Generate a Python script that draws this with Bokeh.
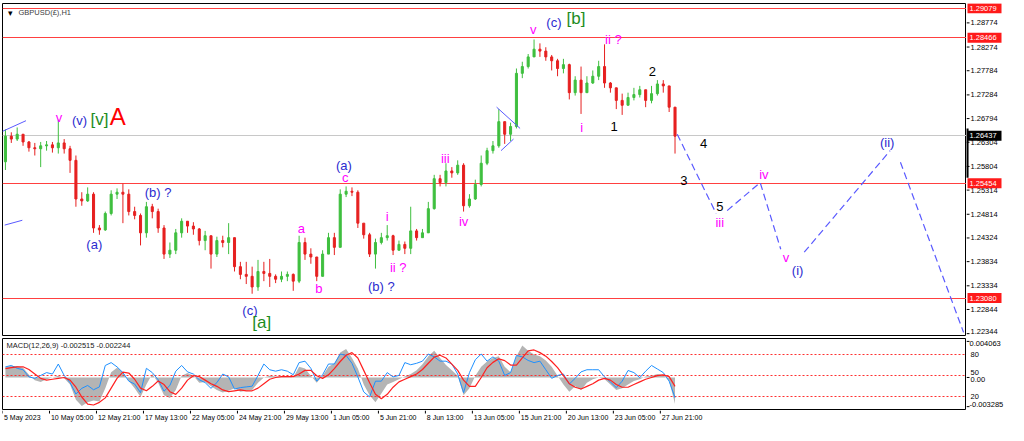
import numpy as np
from bokeh.plotting import figure
from bokeh.models import Range1d, Label, ColumnDataSource
from bokeh.layouts import column, row
from bokeh.embed import file_html
from bokeh.resources import INLINE
from bokeh.core.properties import value

# ---------------- data (H1 bars aggregated by 8) ----------------
BARS_PER_CANDLE = 8
first_open = 1.2590
close = [1.2643, 1.2637, 1.2647, 1.2631, 1.2619, 1.2617, 1.2623, 1.2625, 1.2619, 1.2629,
         1.2617, 1.2593, 1.2513, 1.2509, 1.2523, 1.2453, 1.2449, 1.2483, 1.2523, 1.2527,
         1.2523, 1.2487, 1.2479, 1.2443, 1.2497, 1.2487, 1.2453, 1.2399, 1.2407, 1.2443,
         1.2467, 1.2457, 1.2451, 1.2427, 1.2437, 1.2399, 1.2427, 1.2423, 1.2433, 1.2373,
         1.2357, 1.2353, 1.2331, 1.2363, 1.2359, 1.2353, 1.2347, 1.2353, 1.2357, 1.2343,
         1.2423, 1.2399, 1.2393, 1.2353, 1.2399, 1.2433, 1.2413, 1.2523, 1.2529, 1.2527,
         1.2463, 1.2439, 1.2399, 1.2423, 1.2433, 1.2437, 1.2407, 1.2419, 1.2411, 1.2447,
         1.2433, 1.2443, 1.2493, 1.2555, 1.2547, 1.2571, 1.2567, 1.2583, 1.2499, 1.2513,
         1.2543, 1.2587, 1.2613, 1.2623, 1.2673, 1.2647, 1.2663, 1.2773, 1.2787, 1.2807,
         1.2823, 1.2819, 1.2807, 1.2799, 1.2783, 1.2791, 1.2733, 1.2759, 1.2733, 1.2753,
         1.2767, 1.2787, 1.2753, 1.2743, 1.2717, 1.2707, 1.2723, 1.2729, 1.2739, 1.2717,
         1.2731, 1.2751, 1.2747, 1.2703, 1.2643]
high = [1.2657, 1.2651, 1.2661, 1.2643, 1.2633, 1.2629, 1.2631, 1.2633, 1.2631, 1.2677,
        1.2637, 1.2623, 1.2603, 1.2527, 1.2537, 1.2527, 1.2459, 1.2487, 1.2531, 1.2535,
        1.2545, 1.2533, 1.2497, 1.2483, 1.2507, 1.2503, 1.2493, 1.2459, 1.2423, 1.2451,
        1.2473, 1.2467, 1.2465, 1.2453, 1.2447, 1.2433, 1.2435, 1.2437, 1.2463, 1.2433,
        1.2383, 1.2383, 1.2373, 1.2387, 1.2383, 1.2389, 1.2357, 1.2363, 1.2363, 1.2359,
        1.2437, 1.2433, 1.2411, 1.2393, 1.2407, 1.2443, 1.2443, 1.2533, 1.2539, 1.2537,
        1.2531, 1.2457, 1.2443, 1.2431, 1.2443, 1.2459, 1.2439, 1.2427, 1.2425, 1.2497,
        1.2451, 1.2451, 1.2507, 1.2563, 1.2563, 1.2587, 1.2579, 1.2593, 1.2587, 1.2523,
        1.2553, 1.2603, 1.2619, 1.2633, 1.2699, 1.2673, 1.2671, 1.2783, 1.2797, 1.2813,
        1.2843, 1.2835, 1.2827, 1.2811, 1.2803, 1.2803, 1.2793, 1.2767, 1.2787, 1.2767,
        1.2779, 1.2799, 1.2833, 1.2755, 1.2743, 1.2731, 1.2733, 1.2743, 1.2747, 1.2735,
        1.2747, 1.2759, 1.2759, 1.2739, 1.2703]
low = [1.2573, 1.2629, 1.2633, 1.2623, 1.2611, 1.2603, 1.2579, 1.2613, 1.2609, 1.2607,
       1.2607, 1.2567, 1.2497, 1.2499, 1.2507, 1.2443, 1.2439, 1.2447, 1.2479, 1.2513,
       1.2463, 1.2479, 1.2471, 1.2417, 1.2433, 1.2473, 1.2443, 1.2389, 1.2391, 1.2399,
       1.2433, 1.2443, 1.2439, 1.2417, 1.2407, 1.2369, 1.2393, 1.2413, 1.2399, 1.2363,
       1.2347, 1.2337, 1.2317, 1.2323, 1.2343, 1.2331, 1.2339, 1.2341, 1.2343, 1.2323,
       1.2339, 1.2387, 1.2379, 1.2343, 1.2353, 1.2399, 1.2397, 1.2413, 1.2517, 1.2519,
       1.2453, 1.2431, 1.2393, 1.2369, 1.2419, 1.2427, 1.2397, 1.2407, 1.2399, 1.2399,
       1.2427, 1.2435, 1.2443, 1.2491, 1.2539, 1.2539, 1.2557, 1.2563, 1.2487, 1.2495,
       1.2511, 1.2539, 1.2583, 1.2607, 1.2619, 1.2627, 1.2633, 1.2659, 1.2763, 1.2783,
       1.2807, 1.2807, 1.2799, 1.2779, 1.2767, 1.2773, 1.2719, 1.2727, 1.2689, 1.2739,
       1.2751, 1.2759, 1.2743, 1.2733, 1.2699, 1.2687, 1.2707, 1.2717, 1.2723, 1.2703,
       1.2711, 1.2727, 1.2733, 1.2693, 1.2607]

macd = [0.0012, 0.0013, 0.0013, 0.0011, 0.0003, -0.0003, -0.0005, -0.0002, 0.0000, 0.0002,
        -0.0001, -0.0008, -0.0025, -0.0032, -0.0028, -0.0026, -0.0027, -0.0012, 0.0006, 0.0011,
        0.0006, -0.0004, -0.0012, -0.0022, -0.0008, 0.0004, -0.0006, -0.0020, -0.0023, -0.0014,
        0.0002, 0.0005, 0.0002, -0.0006, -0.0005, -0.0010, -0.0014, -0.0017, -0.0015, -0.0012,
        -0.0016, -0.0015, -0.0014, -0.0006, 0.0000, 0.0002, 0.0001, 0.0001, 0.0002, 0.0000,
        0.0012, 0.0010, 0.0002, -0.0006, 0.0002, 0.0012, 0.0016, 0.0028, 0.0032, 0.0022,
        0.0010, -0.0008, -0.0020, -0.0028, -0.0018, -0.0008, -0.0005, -0.0002, 0.0001, 0.0004,
        0.0008, 0.0015, 0.0024, 0.0030, 0.0022, 0.0014, 0.0008, 0.0002, -0.0020, -0.0012,
        0.0002, 0.0012, 0.0018, 0.0022, 0.0024, 0.0012, 0.0006, 0.0024, 0.0036, 0.0030,
        0.0026, 0.0024, 0.0019, 0.0012, 0.0002, -0.0008, -0.0016, -0.0010, -0.0014, -0.0006,
        -0.0002, 0.0000, -0.0002, -0.0008, -0.0014, -0.0012, -0.0008, -0.0004, -0.0002, 0.0001,
        0.0002, 0.0004, 0.0003, -0.0004, -0.0030]
signal = [0.0010, 0.0011, 0.0012, 0.0012, 0.0009, 0.0004, -0.0001, -0.0003, -0.0002, -0.0001,
          0.0000, -0.0003, -0.0011, -0.0022, -0.0030, -0.0031, -0.0028, -0.0023, -0.0012, -0.0001,
          0.0006, 0.0005, -0.0002, -0.0012, -0.0015, -0.0010, -0.0004, -0.0008, -0.0016, -0.0019,
          -0.0012, -0.0003, 0.0002, 0.0001, -0.0003, -0.0007, -0.0010, -0.0014, -0.0016, -0.0015,
          -0.0014, -0.0015, -0.0015, -0.0012, -0.0007, -0.0002, 0.0000, 0.0001, 0.0001, 0.0001,
          0.0004, 0.0008, 0.0008, 0.0002, -0.0001, 0.0003, 0.0010, 0.0018, 0.0025, 0.0028,
          0.0022, 0.0008, -0.0006, -0.0019, -0.0024, -0.0019, -0.0011, -0.0005, -0.0002, 0.0001,
          0.0004, 0.0009, 0.0016, 0.0023, 0.0025, 0.0022, 0.0015, 0.0008, -0.0003, -0.0010,
          -0.0010, 0.0000, 0.0011, 0.0017, 0.0021, 0.0019, 0.0014, 0.0014, 0.0022, 0.0030,
          0.0031, 0.0028, 0.0024, 0.0018, 0.0011, 0.0002, -0.0007, -0.0011, -0.0013, -0.0010,
          -0.0007, -0.0003, -0.0001, -0.0003, -0.0008, -0.0011, -0.0011, -0.0008, -0.0005, -0.0002,
          0.0000, 0.0002, 0.0003, 0.0001, -0.0010]
osc = [62, 64, 60, 58, 48, 46, 50, 54, 52, 66, 50, 40, 24, 32, 36, 30, 34, 64, 68, 62,
       54, 42, 38, 26, 60, 54, 44, 28, 36, 56, 64, 55, 52, 44, 40, 32, 40, 52, 48, 31,
       33, 34, 35, 50, 66, 58, 56, 58, 56, 51, 68, 70, 60, 42, 51, 66, 66, 80, 78, 67,
       48, 27, 20, 42, 42, 54, 48, 50, 68, 65, 67, 70, 80, 76, 70, 70, 66, 52, 26, 54,
       72, 80, 70, 76, 70, 50, 54, 78, 76, 71, 68, 70, 58, 46, 50, 52, 38, 46, 55, 58,
       58, 58, 48, 41, 33, 42, 57, 54, 47, 56, 64, 59, 54, 42, 19]
osc_levels = [80, 50, 20]

x_tick_bars = [0, 64, 128, 192, 256, 320, 384, 448, 512, 576, 640, 704, 768, 832, 896]
x_tick_labels = ["5 May 2023", "10 May 05:00", "12 May 21:00", "17 May 13:00", "22 May 05:00",
                 "24 May 21:00", "29 May 13:00", "1 Jun 05:00", "5 Jun 21:00", "8 Jun 13:00",
                 "13 Jun 05:00", "15 Jun 21:00", "20 Jun 13:00", "23 Jun 05:00", "27 Jun 21:00"]
price_ticks = [1.22344, 1.22844, 1.23334, 1.23834, 1.24324, 1.24814, 1.25314, 1.25804,
               1.26304, 1.26794, 1.27284, 1.27784, 1.28274, 1.28774]
red_levels = [1.29079, 1.28466, 1.25454, 1.23080]
bid = 1.26437
current_bar_range = [1.2557, 1.2659]
macd_ticks = [0.004063, 0.0, -0.003285]
macd_tick_labels = ["0.004063", "0.00", "-0.003285"]

# projected wave path (bar, price)
proj_x = [[919, 972], [987, 1032, 1060], [1092, 1209], [1223, 1309]]
proj_y = [[1.2647, 1.2483], [1.2489, 1.2547, 1.2409], [1.2403, 1.2613], [1.2589, 1.2237]]
# drawn trend lines
draw_x = [[0, 32], [3, 27], [673, 705], [679, 696]]
draw_y = [[1.2653, 1.2675], [1.2459, 1.2469], [1.2703, 1.2659], [1.2613, 1.2637]]

MAG, BLU, GRN, BLK, RED = "#ff00ff", "#2b2bd0", "#1e8c1e", "#000000", "#ff0000"
wave_labels = [
    ("v", 77, 1.2681, MAG, "13px"), ("(v)", 105, 1.2675, BLU, "13px"), ("[v]", 132, 1.2677, GRN, "17px"),
    ("A", 157, 1.2684, RED, "24px"), ("(a)", 125, 1.2419, BLU, "13px"), ("(b) ?", 212, 1.2527, BLU, "13px"),
    ("(c)", 337, 1.2283, BLU, "13px"), ("[a]", 353, 1.2257, GRN, "17px"), ("a", 407, 1.2451, MAG, "13px"),
    ("b", 431, 1.2327, MAG, "13px"), ("(a)", 465, 1.2583, BLU, "13px"), ("c", 467, 1.2557, MAG, "13px"),
    ("i", 524, 1.2477, MAG, "13px"), ("ii ?", 539, 1.2371, MAG, "13px"), ("(b) ?", 516, 1.2331, BLU, "13px"),
    ("iii", 603, 1.2597, MAG, "13px"), ("iv", 628, 1.2467, MAG, "13px"), ("v", 723, 1.2863, MAG, "13px"),
    ("(c)", 751, 1.2879, BLU, "13px"), ("[b]", 781, 1.2887, GRN, "17px"), ("ii ?", 832, 1.2843, MAG, "13px"),
    ("i", 789, 1.2661, MAG, "13px"), ("1", 833, 1.2663, BLK, "13px"), ("2", 885, 1.2777, BLK, "13px"),
    ("4", 955, 1.2627, BLK, "13px"), ("3", 928, 1.2551, BLK, "13px"), ("5", 977, 1.2497, BLK, "13px"),
    ("iii", 977, 1.2465, MAG, "13px"), ("iv", 1037, 1.2563, MAG, "13px"), ("v", 1067, 1.2391, MAG, "13px"),
    ("(i)", 1083, 1.2365, BLU, "13px"), ("(ii)", 1205, 1.2629, BLU, "13px"),
]

# ---------------- layout ----------------
CHART_W, AXIS_W = 966, 42
MAIN_H, MACD_H, XL_H = 336, 74, 15
LB = 2
FONT = "Liberation Sans"
TICK_FS = "7.5px"
UP, DOWN = "#3fbf3f", "#e62020"


def styled(fig):
    fig.grid.visible = False
    fig.toolbar_location = None
    return fig


xr = Range1d(0, 1313)
yr_main = Range1d(1.22285, 1.29175)
yr_macd = Range1d(-0.00372, 0.00439)
yr_osc = Range1d(1, 101.7)
axis_xr = Range1d(0, AXIS_W)

# main price chart
p = styled(figure(width=CHART_W, height=MAIN_H, x_range=xr, y_range=yr_main, output_backend="svg",
                  toolbar_location=None, x_axis_location=None, y_axis_location=None,
                  min_border_left=LB, min_border_right=0, min_border_top=3, min_border_bottom=0))
p.outline_line_color = "black"
p.hspan(y=red_levels, line_color="#ff4040", line_width=1)
p.hspan(y=[bid], line_color="#c8c8c8", line_width=1)

xc = np.arange(len(close)) * BARS_PER_CANDLE + BARS_PER_CANDLE / 2
opens = [first_open] + close[:-1]
cols = [UP if c >= o else DOWN for o, c in zip(opens, close)]
src = ColumnDataSource(dict(x=xc, o=opens, c=close, h=high, l=low, col=cols))
p.segment("x", "h", "x", "l", line_color="col", line_width=1, source=src)
p.vbar(x="x", width=2.8, top="o", bottom="c", fill_color="col", line_color="col", source=src)

p.multi_line(draw_x, draw_y, line_color="#5a5aff", line_width=1)
p.multi_line(proj_x, proj_y, line_color="#5a5aff", line_width=1.2, line_dash="7 4")

for t, bx, py, c, fs in wave_labels:
    p.add_layout(Label(x=bx, y=py, text=t, text_color=c, text_font=FONT, text_font_size=fs,
                       text_align="center", text_baseline="middle"))

FRAME_H = MAIN_H - 3
p.add_layout(Label(x=5, y=FRAME_H - 9, x_units="screen", y_units="screen", text="\u25BE",
                   text_font=FONT, text_font_size="9px", text_color="black", text_baseline="middle"))
p.add_layout(Label(x=16, y=FRAME_H - 9, x_units="screen", y_units="screen", text="GBPUSD(£),H1",
                   text_font=FONT, text_font_size="7.5px", text_color="#404040", text_baseline="middle"))

# price scale panel
pa = styled(figure(width=AXIS_W, height=MAIN_H, x_range=axis_xr, y_range=yr_main, output_backend="svg",
                   toolbar_location=None, x_axis_location=None, y_axis_location=None,
                   min_border_left=0, min_border_right=0, min_border_top=3, min_border_bottom=0))
pa.outline_line_color = None
pa.segment(x0=0, y0=price_ticks, x1=3, y1=price_ticks, line_color="black", line_width=1)
pa.text(x=4, y=price_ticks, text=[f"{t:.5f}" for t in price_ticks], text_font=value(FONT),
        text_font_size=TICK_FS, text_baseline=["bottom"] + ["middle"] * (len(price_ticks) - 1),
        text_color="black")
pa.segment(x0=0.8, y0=current_bar_range[0], x1=0.8, y1=current_bar_range[1], line_color="black", line_width=2.5)
box_levels = red_levels + [bid]
box_colors = ["#ff1a1a"] * len(red_levels) + ["black"]
pa.rect(x=18, y=box_levels, width=34, height=10, height_units="screen", fill_color=box_colors,
        line_color=None)
pa.text(x=3, y=box_levels, text=[f"{v:.5f}" for v in box_levels], text_font=value(FONT),
        text_font_size=TICK_FS, text_baseline="middle", text_color="white")

# MACD panel
q = styled(figure(width=CHART_W, height=MACD_H, x_range=xr, y_range=yr_macd, output_backend="svg",
                  toolbar_location=None, x_axis_location=None, y_axis_location=None,
                  min_border_left=LB, min_border_right=0, min_border_top=2, min_border_bottom=0))
q.extra_y_ranges = {"osc": yr_osc}
q.outline_line_color = "black"
q.varea(x=xc, y1=np.zeros(len(macd)), y2=macd, fill_color="#b4b4b4")
q.hspan(y=osc_levels, y_range_name="osc", line_color="#ff3030", line_dash="2 2", line_width=1)
q.line(xc, osc, y_range_name="osc", line_color="#1e90ff", line_width=1)
q.line(xc, signal, line_color="#ff2020", line_width=1.2)
MACD_FH = MACD_H - 2
q.add_layout(Label(x=4, y=MACD_FH - 7, x_units="screen", y_units="screen",
                   text="MACD(12,26,9) -0.002515 -0.002244", text_font=FONT, text_font_size="7.5px",
                   text_color="#202020", text_baseline="middle"))

qa = styled(figure(width=AXIS_W, height=MACD_H, x_range=axis_xr, y_range=yr_macd, output_backend="svg",
                   toolbar_location=None, x_axis_location=None, y_axis_location=None,
                   min_border_left=0, min_border_right=0, min_border_top=2, min_border_bottom=0))
qa.extra_y_ranges = {"osc": yr_osc}
qa.outline_line_color = None
qa.segment(x0=0, y0=macd_ticks, x1=3, y1=macd_ticks, line_color="black", line_width=1)
qa.text(x=[3, 4, 3], y=macd_ticks, text=macd_tick_labels, text_font=value(FONT), text_font_size=TICK_FS,
        text_baseline=["top", "top", "bottom"], text_color="black")
qa.text(x=4, y=osc_levels, text=[str(v) for v in osc_levels], y_range_name="osc", text_font=value(FONT),
        text_font_size=TICK_FS, text_baseline=["middle", "bottom", "middle"], text_color="black")

# time scale strip
xl = styled(figure(width=CHART_W + AXIS_W, height=XL_H, x_range=xr, y_range=Range1d(0, XL_H),
                   output_backend="svg", toolbar_location=None, x_axis_location=None, y_axis_location=None,
                   min_border_left=LB, min_border_right=AXIS_W, min_border_top=0, min_border_bottom=0))
xl.outline_line_color = None
xl.segment(x0=x_tick_bars, y0=XL_H, x1=x_tick_bars, y1=XL_H - 3, line_color="black", line_width=1)
xl.text(x=[b + 2 for b in x_tick_bars], y=XL_H - 3, text=x_tick_labels, text_font=value(FONT),
        text_font_size="7px", text_baseline="top", text_align="left", text_color="black")

layout = column(row(p, pa, spacing=0), row(q, qa, spacing=0), xl, spacing=0)
open("out.html", "w").write(file_html(layout, INLINE))
